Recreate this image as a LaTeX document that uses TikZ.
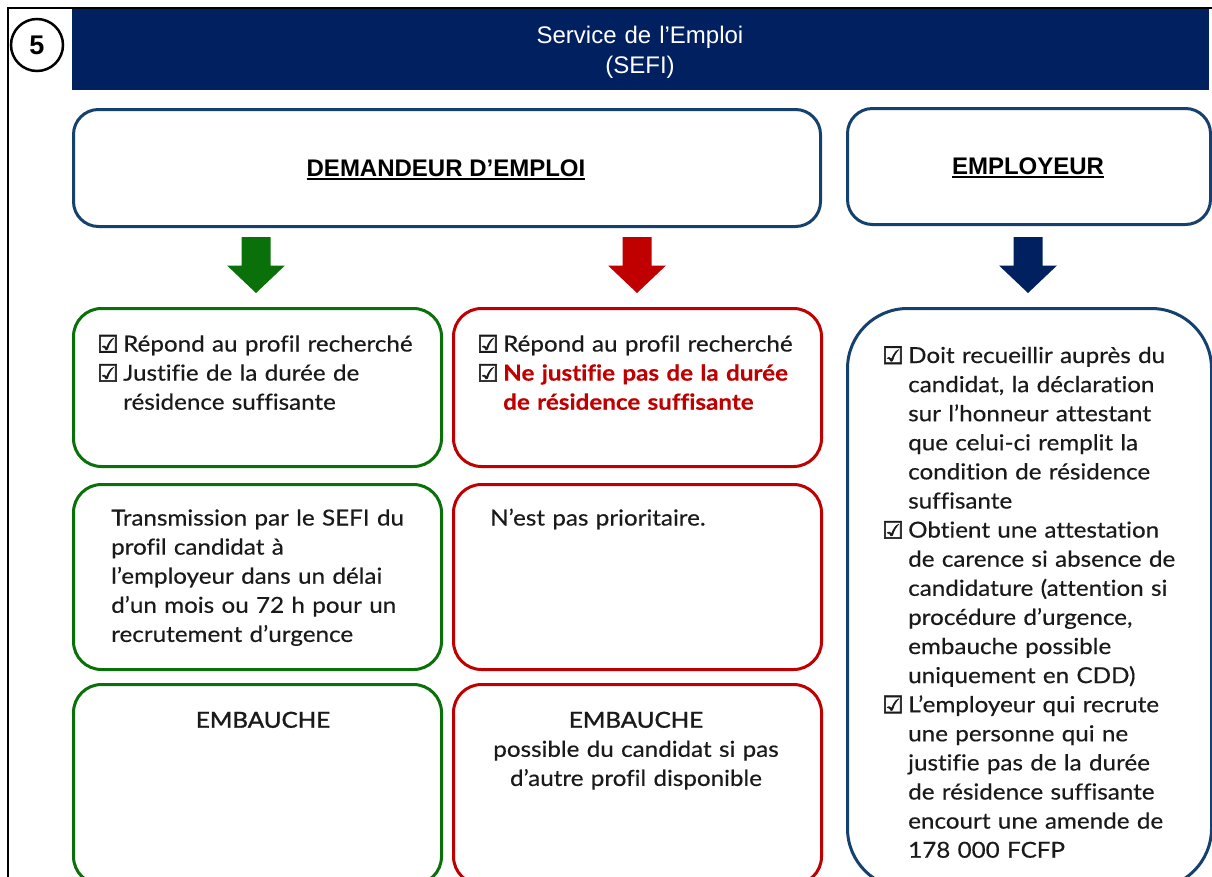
\documentclass[tikz,border=0pt]{standalone}
\usepackage{fontspec}
\setmainfont{Lato}[FakeStretch=1.1, FakeBold=0.4, Ligatures={NoCommon}]
\newfontfamily\headfont{Liberation Sans}
\newfontfamily\symfont{DejaVu Sans}[FakeBold=2.5]
\newfontfamily\semifont{Lato}[FakeStretch=1.1, FakeBold=1.4, Ligatures={NoCommon}]
\definecolor{bandnavy}{HTML}{002060}
\definecolor{framenavy}{HTML}{15416F}
\definecolor{okgreen}{HTML}{0A700A}
\definecolor{kored}{HTML}{C00000}
\definecolor{ink}{HTML}{1A1A1A}
% check box in front of an item, and the indent of its continuation lines
\newcommand\chk{\makebox[26pt][l]{\raisebox{-1pt}{\symfont\fontsize{24}{24}\selectfont ☑}}}
\newcommand\ind{\hspace*{26pt}}
% thick underline for the column titles
\newcommand\uline[1]{\setbox0\hbox{#1}\rlap{\rule[-4pt]{\wd0}{2.5pt}}\box0}
% block arrow pointing down: centre x, top y, colour
\newcommand\bigdown[3]{\fill[#3] ({#1-14.5},#2) -- ({#1+14.5},#2) -- ({#1+14.5},{#2+28.5}) -- ({#1+29},{#2+28.5}) -- (#1,{#2+56}) -- ({#1-29},{#2+28.5}) -- ({#1-14.5},{#2+28.5}) -- cycle;}
\tikzset{
  panel/.style={draw, line width=3pt, fill=white, anchor=north west, inner sep=0pt, rounded corners=28pt},
  body/.style={anchor=base west, inner sep=0pt, text width=#1, align=left, text=ink,
    font=\fontsize{22}{29.1}\selectfont},
  bodyc/.style={anchor=base, inner sep=0pt, text width=#1, align=center, text=ink,
    font=\fontsize{22}{29.1}\selectfont},
  title/.style={anchor=base, inner sep=0pt, font=\headfont\bfseries\fontsize{24}{28}\selectfont}
}
\begin{document}
\begin{tikzpicture}[x=1pt,y=-1pt]
% page frame
\draw[line width=2pt] (8,880) -- (8,8) -- (1214,8);
% step number
\node[draw, circle, line width=2.5pt, minimum size=52pt, inner sep=0pt,
  font=\headfont\bfseries\fontsize{27}{27}\selectfont] (num) at (37,45) {5};
% banner
\node[fill=bandnavy, anchor=north west, minimum width=1137pt, minimum height=81pt, inner sep=0pt] (band) at (72,9) {};
\node[anchor=base, inner sep=0pt, text width=400pt, align=center, text=white,
  font=\headfont\fontsize{24}{30}\selectfont] (bandtxt) at (640,43) {Service de l’Emploi\\(SEFI)};
% column headers
\node[panel, draw=framenavy, rounded corners=25pt, minimum width=747pt, minimum height=117pt] (dem) at (72,108) {};
\node[title] (demtxt) at (446,176) {\uline{DEMANDEUR D’EMPLOI}};
\node[panel, draw=framenavy, rounded corners=25pt, minimum width=363pt, minimum height=116pt] (emp) at (846,107) {};
\node[title] (emptxt) at (1028,174) {\uline{EMPLOYEUR}};
% arrows
\bigdown{256}{237}{okgreen}
\bigdown{637}{237}{kored}
\bigdown{1028}{237}{bandnavy}
% green column
\node[panel, draw=okgreen, minimum width=368pt, minimum height=158pt] (g1) at (72,307) {};
\node[panel, draw=okgreen, minimum width=368pt, minimum height=185pt] (g2) at (72,483) {};
\node[panel, draw=okgreen, minimum width=368pt, minimum height=200pt] (g3) at (72,683) {};
% red column
\node[panel, draw=kored, minimum width=368pt, minimum height=158pt] (r1) at (452,307) {};
\node[panel, draw=kored, minimum width=368pt, minimum height=185pt] (r2) at (452,483) {};
\node[panel, draw=kored, minimum width=368pt, minimum height=200pt] (r3) at (452,683) {};
% employer column
\node[panel, draw=framenavy, rounded corners=60pt, minimum width=364pt, minimum height=580pt] (e1) at (846,307) {};
% texts
\node[body=340pt] (g1txt) at (97,351.5) {\chk Répond au profil recherché\\
\chk Justifie de la durée de\\
\ind résidence suffisante};
\node[body=340pt] (r1txt) at (477,351.5) {\chk Répond au profil recherché\\
\chk\textcolor{kored}{\bfseries Ne justifie pas de la durée}\\
\ind\textcolor{kored}{\bfseries de résidence suffisante}};
\node[body=320pt] (g2txt) at (111,525.5) {Transmission par le SEFI du\\
profil candidat à\\
l’employeur dans un délai\\
d’un mois ou 72 h pour un\\
recrutement d’urgence};
\node[body=320pt] (r2txt) at (490,525.5) {N’est pas prioritaire.};
\node[bodyc=340pt] (g3txt) at (263,727.7) {\semifont EMBAUCHE};
\node[bodyc=340pt] (r3txt) at (636,727.7) {{\semifont EMBAUCHE}\\
possible du candidat si pas\\
d’autre profil disponible};
\node[body=320pt] (e1txt) at (882,363) {\chk Doit recueillir auprès du\\
\ind candidat, la déclaration\\
\ind sur l’honneur attestant\\
\ind que celui-ci remplit la\\
\ind condition de résidence\\
\ind suffisante\\
\chk Obtient une attestation\\
\ind de carence si absence de\\
\ind candidature (attention si\\
\ind procédure d’urgence,\\
\ind embauche possible\\
\ind uniquement en CDD)\\
\chk L’employeur qui recrute\\
\ind une personne qui ne\\
\ind justifie pas de la durée\\
\ind de résidence suffisante\\
\ind encourt une amende de\\
\ind 178 000 FCFP};
\pgfresetboundingbox
\useasboundingbox (0,0) rectangle (1212,876);
\end{tikzpicture}
\end{document}
